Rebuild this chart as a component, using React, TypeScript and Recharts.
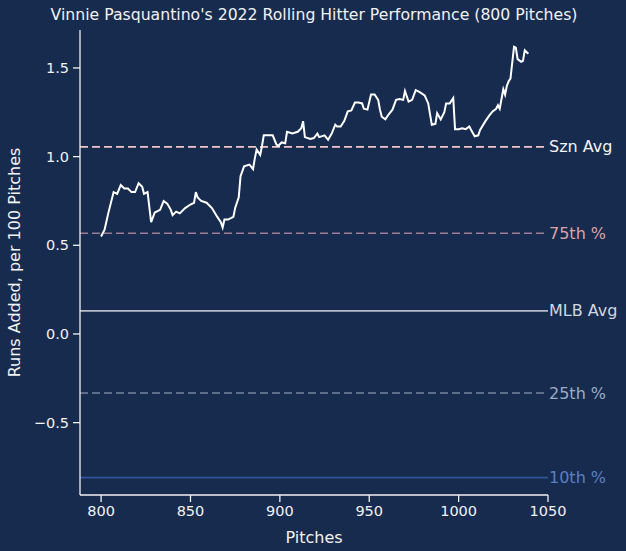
import { LineChart, Line, XAxis, YAxis, ReferenceLine } from "recharts";

const pitches = [
  800, 802, 804, 807, 809, 811, 813, 815, 817, 819, 821, 823, 824, 826, 828, 830,
  833, 835, 837, 839, 840, 842, 844, 847, 850, 852, 853, 854, 856, 859, 862, 865,
  867, 868, 869, 871, 874, 875, 877, 878, 880, 883, 885, 886, 887, 889, 890, 891,
  894, 896, 898, 899, 901, 903, 904, 907, 910, 912, 913, 914, 917, 919, 921, 922,
  925, 927, 929, 931, 932, 934, 936, 938, 940, 942, 944, 946, 947, 949, 951, 953,
  955, 956, 957, 959, 961, 963, 965, 967, 969, 970, 972, 974, 976, 978, 981, 983,
  984, 985, 987, 988, 990, 992, 993, 995, 997, 998, 1000, 1002, 1004, 1006, 1007,
  1009, 1011, 1012, 1015, 1017, 1019, 1021, 1022, 1023, 1025, 1026, 1027, 1028,
  1029, 1031, 1032, 1033, 1035, 1036, 1037, 1039,
];

const runsAdded = [
  0.55, 0.59, 0.68, 0.8, 0.79, 0.84, 0.82, 0.82, 0.8, 0.8, 0.85, 0.83, 0.79, 0.8, 0.63, 0.685,
  0.7, 0.75, 0.735, 0.7, 0.67, 0.69, 0.68, 0.71, 0.73, 0.74, 0.8, 0.77, 0.75, 0.74, 0.71, 0.66,
  0.63, 0.6, 0.645, 0.645, 0.66, 0.71, 0.77, 0.89, 0.945, 0.955, 0.93, 0.99, 1.04, 1.01, 1.06, 1.12,
  1.12, 1.12, 1.07, 1.06, 1.08, 1.075, 1.14, 1.13, 1.14, 1.16, 1.2, 1.11, 1.1, 1.105, 1.13, 1.11,
  1.12, 1.095, 1.13, 1.18, 1.17, 1.17, 1.2, 1.255, 1.26, 1.305, 1.305, 1.3, 1.27, 1.265, 1.35, 1.35,
  1.32, 1.265, 1.225, 1.21, 1.24, 1.265, 1.32, 1.325, 1.32, 1.37, 1.31, 1.32, 1.375, 1.365, 1.345, 1.3,
  1.24, 1.18, 1.185, 1.245, 1.21, 1.25, 1.3, 1.3, 1.33, 1.155, 1.155, 1.16, 1.155, 1.17, 1.15,
  1.115, 1.12, 1.15, 1.2, 1.23, 1.255, 1.27, 1.29, 1.27, 1.38, 1.35, 1.4, 1.425,
  1.44, 1.62, 1.615, 1.55, 1.535, 1.54, 1.6, 1.58,
];

const xTicks = [800, 850, 900, 950, 1000, 1050];
const yTicks = [-0.5, 0, 0.5, 1.0, 1.5];

const refLabels = ["Szn Avg", "75th %", "MLB Avg", "25th %", "10th %"];
const refValues = [1.055, 0.568, 0.13, -0.333, -0.81];
const refLineColors = ["#f2c6c6", "#9c7d95", "#b9bdc9", "#76859f", "#2e5597"];
const refTextColors = ["#f4f4f4", "#dea3a3", "#d3d6de", "#9eabc5", "#5b80c0"];
const refDashed = [true, true, false, true, false];

const data = pitches.map((p, i) => ({ pitch: p, value: runsAdded[i] }));

const BG = "#172b4f";
const FG = "#f2f2f2";
const FONT = "DejaVu Sans";

const fmt = (v: number) => (v < 0 ? "\u2212" : "") + Math.abs(v).toFixed(1);

export default function App() {
  return (
    <div style={{ position: "absolute", left: 0, top: 0, width: 626, height: 551, background: BG, fontFamily: FONT }}>
      <div style={{ position: "absolute", left: 0, top: 5, width: 628, textAlign: "center", color: FG, fontSize: 15.7 }}>
        Vinnie Pasquantino's 2022 Rolling Hitter Performance (800 Pitches)
      </div>
      <LineChart width={626} height={551} data={data} margin={{ top: 30, right: 78, bottom: 0, left: 0 }}>
        <XAxis
          dataKey="pitch"
          type="number"
          domain={[788.2, 1050]}
          ticks={xTicks}
          height={56}
          stroke={FG}
          strokeWidth={1.3}
          tickSize={7}
          tickMargin={4}
          tick={{ fill: FG, fontSize: 14.5, fontFamily: FONT }}
          allowDataOverflow
          label={{ value: "Pitches", position: "insideBottom", offset: 8, fill: FG, fontSize: 16, fontFamily: FONT }}
        />
        <YAxis
          type="number"
          domain={[-0.908, 1.714]}
          ticks={yTicks}
          width={80}
          stroke={FG}
          strokeWidth={1.3}
          tickSize={7}
          tickMargin={4}
          tickFormatter={fmt}
          tick={{ fill: FG, fontSize: 14.5, fontFamily: FONT }}
          allowDataOverflow
          label={{
            value: "Runs Added, per 100 Pitches",
            angle: -90,
            position: "insideLeft",
            offset: 14,
            fill: FG,
            fontSize: 16,
            fontFamily: FONT,
            style: { textAnchor: "middle" },
          }}
        />
        {refValues.map((v, i) => (
          <ReferenceLine
            key={refLabels[i]}
            y={v}
            stroke={refLineColors[i]}
            strokeWidth={1.6}
            strokeDasharray={refDashed[i] ? "8 4" : undefined}
            ifOverflow="extendDomain"
            label={(props: any) => {
              const vb = props.viewBox;
              return (
                <text
                  x={vb.x + vb.width + 1}
                  y={vb.y}
                  dy={5.5}
                  fill={refTextColors[i]}
                  fontSize={16}
                  fontFamily={FONT}
                  textAnchor="start"
                >
                  {refLabels[i]}
                </text>
              );
            }}
          />
        ))}
        <Line
          type="linear"
          dataKey="value"
          stroke="#ffffff"
          strokeWidth={2}
          dot={false}
          isAnimationActive={false}
        />
      </LineChart>
    </div>
  );
}
